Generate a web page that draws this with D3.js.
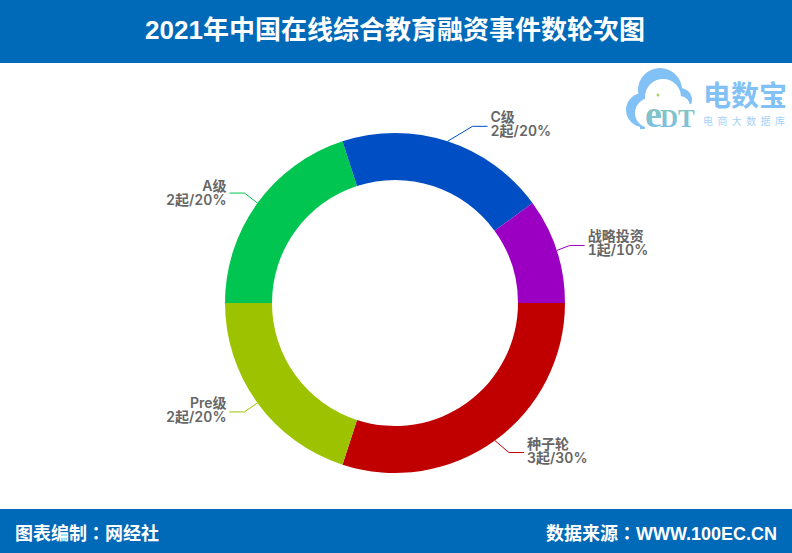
<!DOCTYPE html>
<html>
<head>
<meta charset="utf-8">
<script src="https://cdn.jsdelivr.net/npm/d3@7"></script>
<style>
  html, body { margin: 0; padding: 0; background: #fff; }
  svg { display: block; }
  text { font-family: "Liberation Sans", "Noto Sans CJK TC", sans-serif; }
  .lbl { font-family: "Inter", "Noto Sans CJK SC", sans-serif; font-size: 14px; font-weight: 600; fill: #666; font-variant-numeric: tabular-nums; font-feature-settings: "tnum"; }
</style>
</head>
<body>
<div id="chart"></div>
<script>
// data
var categories = ["种子轮", "Pre级", "A级", "C级", "战略投资"];
var counts = [3, 2, 2, 2, 1];
var shares = ["30%", "20%", "20%", "20%", "10%"];
var colors = ["#c00000", "#9dc300", "#00c550", "#004ec4", "#9b00c2"];

var titleText = "2021年中国在线综合教育融资事件数轮次图";
var footerLeft = "图表编制：网经社";
var footerRight = "数据来源：WWW.100EC.CN";

var width = 792, height = 553
  , barColor = "#0069b8"
  , center = { x: 395, y: 303 }
  , radius = { inner: 123, outer: 170 }
  , bendDx = [14, -13, -13, 25, 13] // leader line bend, relative to the ring edge
  , bendDy = [12, 9, -10, -15, -5]
  , labelShift = [0, 0, 1.5, 0, 0]
  , run = 15 // horizontal part of the leader line
;

var svg = d3.select("#chart").append("svg")
    .attr("width", width)
    .attr("height", height)
;

// header and footer bands
svg.append("rect").attr("width", width).attr("height", 63).attr("fill", barColor);
svg.append("rect").attr("y", 509).attr("width", width).attr("height", 44).attr("fill", barColor);

svg.append("text")
    .attr("x", 395).attr("y", 39)
    .attr("text-anchor", "middle")
    .attr("font-size", 26).attr("font-weight", 700).attr("fill", "#fff")
    .text(titleText)
;
svg.append("text")
    .attr("x", 15).attr("y", 540)
    .attr("font-size", 18).attr("font-weight", 700).attr("fill", "#fff")
    .text(footerLeft)
;
svg.append("text")
    .attr("x", 777).attr("y", 540)
    .attr("text-anchor", "end")
    .attr("font-size", 18).attr("font-weight", 700).attr("fill", "#fff")
    .text(footerRight)
;

// logo
var defs = svg.append("defs");
var grad = defs.append("linearGradient")
    .attr("id", "edt").attr("x1", 0).attr("y1", 0).attr("x2", 0).attr("y2", 1);
grad.append("stop").attr("offset", "0%").attr("stop-color", "#86c9a0");
grad.append("stop").attr("offset", "100%").attr("stop-color", "#7cbdf2");

var logo = svg.append("g");
[[643, 110, 17], [660, 90, 22], [680, 100, 12], [684, 112, 10]].forEach(function(c) {
  logo.append("circle").attr("cx", c[0]).attr("cy", c[1]).attr("r", c[2]).attr("fill", "#82c1f6");
});
logo.append("rect").attr("x", 640).attr("y", 108).attr("width", 50).attr("height", 21).attr("fill", "#82c1f6");
[[650, 113, 15], [663, 97, 18], [680, 106, 10]].forEach(function(c) {
  logo.append("circle").attr("cx", c[0]).attr("cy", c[1]).attr("r", c[2]).attr("fill", "#fff");
});
logo.append("rect").attr("x", 645).attr("y", 104).attr("width", 52).attr("height", 26).attr("fill", "#fff");
logo.append("circle").attr("cx", 658).attr("cy", 95).attr("r", 1.5).attr("fill", "#a6d46a");
var edt = logo.append("text")
    .attr("x", 645).attr("y", 127)
    .style("font-family", "'Liberation Serif', serif")
    .attr("font-weight", 700).attr("fill", "url(#edt)")
;
edt.append("tspan").attr("font-size", 38).text("e");
edt.append("tspan").attr("font-size", 25).attr("dx", -2).text("DT");
logo.append("text")
    .attr("x", 703).attr("y", 106)
    .style("font-family", "'Noto Sans CJK SC'")
    .attr("font-size", 28).attr("font-weight", 700).attr("fill", "#82c1f6")
    .text("电数宝")
;
logo.append("text")
    .attr("x", 703).attr("y", 125)
    .style("font-family", "'Noto Sans CJK SC'")
    .attr("font-size", 10).attr("fill", "#a6d2f7")
    .attr("letter-spacing", "4.4px")
    .text("电商大数据库")
;

// ring, clockwise from 3 o'clock
var pie = d3.pie().sort(null).startAngle(Math.PI / 2).endAngle(Math.PI * 2.5);
var arc = d3.arc().innerRadius(radius.inner).outerRadius(radius.outer);
var slices = pie(counts);

var g = svg.append("g").attr("transform", "translate(" + center.x + "," + center.y + ")");

g.selectAll(".slice")
    .data(slices)
  .enter().append("path")
    .attr("class", "slice")
    .attr("d", arc)
    .attr("fill", function(d, i) { return colors[i]; })
;

var labels = g.selectAll(".label")
    .data(slices)
  .enter().append("g")
    .attr("class", "label")
    .each(function(d, i) {
        var self = d3.select(this)
          , mid = (d.startAngle + d.endAngle) / 2
          , right = Math.sin(mid) > 0
          , p0 = [radius.outer * Math.sin(mid), -radius.outer * Math.cos(mid)]
          , p1 = [p0[0] + bendDx[i], p0[1] + bendDy[i]]
          , p2 = [p1[0] + (right ? run : -run), p1[1]]
          , tx = p2[0] + (right ? 3 : -3)
          , ty = p2[1] + labelShift[i]
        ;
        self.append("path")
            .attr("d", d3.line()([p0, p1, p2]))
            .attr("fill", "none")
            .attr("stroke", colors[i])
            .attr("stroke-width", 1)
        ;
        self.append("text")
            .attr("class", "lbl")
            .attr("x", tx).attr("y", ty - 4)
            .attr("text-anchor", right ? "start" : "end")
            .text(categories[i])
        ;
        self.append("text")
            .attr("class", "lbl")
            .attr("x", tx).attr("y", ty + 10)
            .attr("text-anchor", right ? "start" : "end")
            .text(counts[i] + "起/" + shares[i])
        ;
      })
;
</script>
</body>
</html>
